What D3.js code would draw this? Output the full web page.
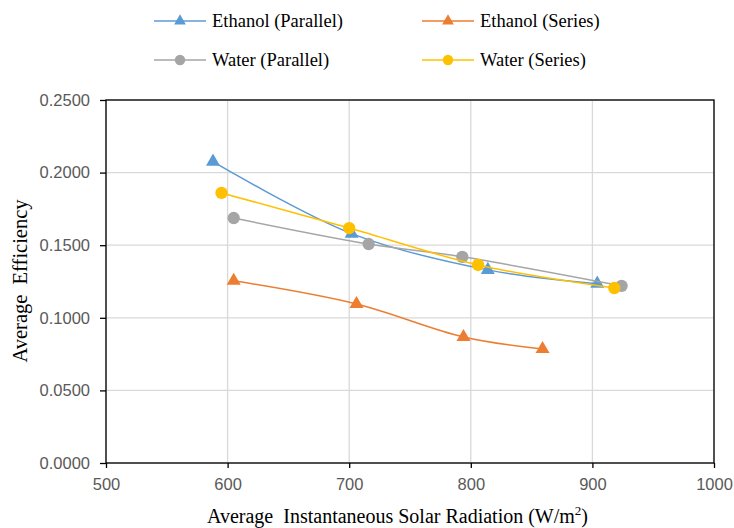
<!DOCTYPE html>
<html>
<head>
<meta charset="utf-8">
<script src="https://cdn.jsdelivr.net/npm/d3@7"></script>
<style>
  body { margin: 0; background: #fff; }
  svg text { white-space: pre; }
</style>
</head>
<body>
<div id="chart"></div>
<script>
// values
var xTicks = [500, 600, 700, 800, 900, 1000];
var yTicks = [0, 0.05, 0.10, 0.15, 0.20, 0.25];

var ethanolParallelX = [588, 702, 814, 904];
var ethanolParallelY = [0.2075, 0.1580, 0.1330, 0.1235];

var ethanolSeriesX = [605, 706, 794, 859];
var ethanolSeriesY = [0.1255, 0.1095, 0.0868, 0.0785];

var waterParallelX = [605, 716, 793, 924];
var waterParallelY = [0.1687, 0.1508, 0.1420, 0.1220];

var waterSeriesX = [595, 700, 806, 918];
var waterSeriesY = [0.1860, 0.1618, 0.1364, 0.1205];

var seriesNames = ["Ethanol (Parallel)", "Ethanol (Series)", "Water (Parallel)", "Water (Series)"];
var seriesColors = ["#5B9BD5", "#ED7D31", "#A5A5A5", "#FFC000"];
var seriesMarkers = ["triangle", "triangle", "circle", "circle"];

var width = 734, height = 528;
var plotLeft = 106, plotRight = 714, plotTop = 100, plotBottom = 463;

var series = [
    {x: ethanolParallelX, y: ethanolParallelY},
    {x: ethanolSeriesX, y: ethanolSeriesY},
    {x: waterParallelX, y: waterParallelY},
    {x: waterSeriesX, y: waterSeriesY},
].map(function (s, i) {
    return {
        name: seriesNames[i],
        color: seriesColors[i],
        marker: seriesMarkers[i],
        points: s.x.map(function (v, j) { return {x: v, y: s.y[j]}; }),
    };
});

var x = d3.scaleLinear().domain([500, 1000]).range([plotLeft, plotRight]);
var y = d3.scaleLinear().domain([0, 0.25]).range([plotBottom, plotTop]);

var svg = d3.select("#chart").append("svg")
    .attr("width", width)
    .attr("height", height)
    .style("font-family", "'Liberation Serif', 'Times New Roman', serif");

svg.append("rect").attr("width", width).attr("height", height).attr("fill", "#fff");

// grid
svg.append("g").selectAll("line")
    .data(yTicks)
    .enter().append("line")
    .attr("x1", plotLeft).attr("x2", plotRight)
    .attr("y1", function (d) { return y(d); })
    .attr("y2", function (d) { return y(d); })
    .attr("stroke", "#d9d9d9").attr("stroke-width", 1.3);

svg.append("g").selectAll("line")
    .data(xTicks)
    .enter().append("line")
    .attr("y1", plotTop).attr("y2", plotBottom)
    .attr("x1", function (d) { return x(d); })
    .attr("x2", function (d) { return x(d); })
    .attr("stroke", "#d9d9d9").attr("stroke-width", 1.3);

// axes
var yAxis = svg.append("g")
    .attr("transform", "translate(" + plotLeft + ",0)")
    .call(d3.axisLeft(y).tickValues(yTicks).tickFormat(d3.format(".4f")).tickSize(6).tickPadding(10));

var xAxis = svg.append("g")
    .attr("transform", "translate(0," + plotBottom + ")")
    .call(d3.axisBottom(x).tickValues(xTicks).tickFormat(d3.format("d")).tickSize(5).tickPadding(10));

[xAxis, yAxis].forEach(function (g) {
    g.select(".domain").remove();
    g.selectAll(".tick line").attr("stroke", "#000").attr("stroke-width", 1.3);
    g.selectAll(".tick text")
        .attr("fill", "#595959")
        .style("font-family", "'Liberation Sans', Arial, sans-serif")
        .style("font-size", "16.5px");
});

// plot box
svg.append("rect")
    .attr("x", plotLeft).attr("y", plotTop)
    .attr("width", plotRight - plotLeft).attr("height", plotBottom - plotTop)
    .attr("fill", "none").attr("stroke", "#000").attr("stroke-width", 1.3);

// series
var line = d3.line()
    .x(function (d) { return x(d.x); })
    .y(function (d) { return y(d.y); })
    .curve(d3.curveCatmullRom.alpha(0.5));

function markerPath(kind, size) {
    var sym = kind === "triangle" ? d3.symbolTriangle : d3.symbolCircle;
    return d3.symbol().type(sym).size(size)();
}

series.forEach(function (s) {
    var g = svg.append("g");
    g.append("path")
        .attr("d", line(s.points))
        .attr("fill", "none")
        .attr("stroke", s.color)
        .attr("stroke-width", 1.5);
    g.selectAll("path.mk")
        .data(s.points)
        .enter().append("path")
        .attr("class", "mk")
        .attr("d", markerPath(s.marker, s.marker === "triangle" ? 85 : 120))
        .attr("transform", function (d) {
            return "translate(" + x(d.x) + "," + y(d.y) + ")";
        })
        .attr("fill", s.color);
});

// legend
var legendPos = [[154, 21], [422, 21], [154, 60], [422, 60]];
series.forEach(function (s, i) {
    var p = legendPos[i];
    var g = svg.append("g").attr("transform", "translate(" + p[0] + "," + p[1] + ")");
    g.append("line")
        .attr("x1", 0).attr("x2", 52).attr("y1", 0).attr("y2", 0)
        .attr("stroke", s.color).attr("stroke-width", 1.5);
    g.append("path")
        .attr("d", markerPath(s.marker, s.marker === "triangle" ? 60 : 85))
        .attr("transform", "translate(26,0)")
        .attr("fill", s.color);
    g.append("text")
        .attr("x", 58).attr("y", 6)
        .style("font-size", "18.5px")
        .attr("fill", "#000")
        .text(s.name);
});

// axis titles
var xt = svg.append("text")
    .attr("x", 207).attr("y", 523)
    .style("font-size", "20px")
    .attr("fill", "#000");
xt.append("tspan").text("Average  Instantaneous Solar Radiation (W/m");
xt.append("tspan").attr("dy", -8).style("font-size", "13px").text("2");
xt.append("tspan").attr("dy", 8).text(")");

svg.append("text")
    .attr("transform", "translate(27,281) rotate(-90)")
    .attr("text-anchor", "middle")
    .style("font-size", "20.5px")
    .attr("fill", "#000")
    .text("Average  Efficiency");
</script>
</body>
</html>
